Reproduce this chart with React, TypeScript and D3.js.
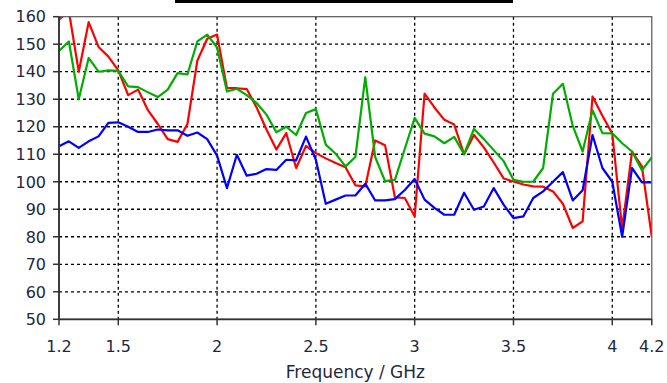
import React from "react";
import * as d3 from "d3";

// Frequency samples (GHz)
const freqs = [
  1.2, 1.25, 1.3, 1.35, 1.4, 1.45, 1.5, 1.55, 1.6, 1.65, 1.7, 1.75, 1.8, 1.85, 1.9, 1.95,
  2.0, 2.05, 2.1, 2.15, 2.2, 2.25, 2.3, 2.35, 2.4, 2.45, 2.5, 2.55, 2.6, 2.65, 2.7, 2.75,
  2.8, 2.85, 2.9, 2.95, 3.0, 3.05, 3.1, 3.15, 3.2, 3.25, 3.3, 3.35, 3.4, 3.45, 3.5, 3.55,
  3.6, 3.65, 3.7, 3.75, 3.8, 3.85, 3.9, 3.95, 4.0, 4.05, 4.1, 4.15, 4.2,
];

const redValues = [
  159, 162, 140, 158, 149, 145.5, 140.5, 131.5, 133.5, 126, 121, 115.5, 114.5, 121, 144, 152,
  153.5, 134, 134, 133.7, 127, 119, 111.7, 117.7, 105, 113, 110.4, 108.5, 106.8, 105.3, 98.7, 98.3,
  115, 113.3, 94.3, 94.1, 87.4, 132, 127, 122.5, 120.8, 110, 117, 112.5, 107, 101.2, 100.1, 99,
  98.3, 98.2, 96.5, 92, 83.2, 85.6, 131, 124, 117.5, 83, 111, 105.6, 80,
];

const greenValues = [
  147.5, 151, 130, 145, 140, 140.5, 140.3, 134.7, 134.4, 132.5, 130.8, 133.5, 139.5, 139, 151, 153.5,
  148.8, 132.8, 133.8, 131.5, 128.6, 124.4, 118, 120, 117, 125, 126.4, 113.5, 110.2, 105.6, 109, 138,
  109, 100.2, 100.7, 112, 123.2, 117.5, 116.5, 114, 116.3, 110, 119.2, 115.5, 111.5, 107.5, 100.7, 100,
  100, 105, 132, 135.6, 120.3, 111, 126, 117.7, 117.6, 114, 111, 104.2, 108.8,
];

const blueValues = [
  112.9, 114.7, 112.3, 114.7, 116.5, 121.4, 121.6, 120, 118.1, 118.1, 119, 118.7, 118.7, 116.7, 117.9, 115.5,
  109.5, 97.7, 109.8, 102.2, 102.9, 104.6, 104.3, 108, 107.8, 116.4, 108, 92, 93.5, 95, 95, 99.3,
  93.2, 93.2, 93.7, 97, 101, 93.5, 90.5, 88, 88, 96, 89.8, 91, 97.7, 91.7, 86.8, 87.4,
  94.1, 96.5, 100, 103.5, 93.2, 96.9, 117, 105, 100, 80, 105, 99.8, 99.8,
];

const xTicks = [1.2, 1.5, 2, 2.5, 3, 3.5, 4, 4.2];
const xTickLabels = ["1.2", "1.5", "2", "2.5", "3", "3.5", "4", "4.2"];
const xGrid = [1.5, 2, 2.5, 3, 3.5, 4];
const yTicks = [50, 60, 70, 80, 90, 100, 110, 120, 130, 140, 150, 160];
const yGrid = [60, 70, 80, 90, 100, 110, 120, 130, 140, 150];

const W = 667;
const H = 383;
const left = 59;
const right = 651.8;
const top = 16.7;
const bottom = 319.3;

const FONT = "'DejaVu Sans', Verdana, sans-serif";
const TEXT = "#1e2740";

export default function App() {
  const x = d3.scaleLinear().domain([1.2, 4.2]).range([left, right]);
  const y = d3.scaleLinear().domain([50, 160]).range([bottom, top]);

  const line = d3
    .line<number>()
    .x((_, i) => x(freqs[i]))
    .y((v) => y(v));

  const series = [
    { values: redValues, color: "#ff0000" },
    { values: blueValues, color: "#0000ff" },
    { values: greenValues, color: "#00ad00" },
  ];

  return (
    <svg
      width={W}
      height={H}
      style={{ position: "absolute", left: 0, top: 0, background: "#fff" }}
    >
      <defs>
        <clipPath id="plot">
          <rect x={left} y={top} width={right - left} height={bottom - top} />
        </clipPath>
      </defs>

      {/* legend frame edge */}
      <rect x={175} y={0} width={338} height={3} fill="#000" />

      {/* grid */}
      {yGrid.map((v) => (
        <line
          key={"gy" + v}
          x1={left}
          x2={right}
          y1={y(v)}
          y2={y(v)}
          stroke="#000"
          strokeWidth={1.3}
          strokeDasharray="3,3"
        />
      ))}
      {xGrid.map((f) => (
        <line
          key={"gx" + f}
          x1={x(f)}
          x2={x(f)}
          y1={top}
          y2={bottom}
          stroke="#000"
          strokeWidth={1.3}
          strokeDasharray="3,3"
        />
      ))}

      {/* data */}
      <g clipPath="url(#plot)">
        {series.map((s, k) => (
          <path
            key={k}
            d={line(s.values) || ""}
            fill="none"
            stroke={s.color}
            strokeWidth={2.2}
            strokeLinejoin="round"
          />
        ))}
      </g>

      {/* frame */}
      <rect
        x={left}
        y={top}
        width={right - left}
        height={bottom - top}
        fill="none"
        stroke="#555"
        strokeWidth={1.2}
      />
      <line x1={left} x2={left} y1={top} y2={bottom} stroke="#333" strokeWidth={1.8} />
      <line x1={left} x2={right} y1={bottom} y2={bottom} stroke="#333" strokeWidth={1.8} />

      {/* y axis */}
      {yTicks.map((v) => (
        <g key={"yt" + v}>
          <line x1={left - 6} x2={left} y1={y(v)} y2={y(v)} stroke="#333" strokeWidth={1.5} />
          <text
            x={46}
            y={y(v)}
            dy="0.36em"
            textAnchor="end"
            fontFamily={FONT}
            fontSize={16}
            fill={TEXT}
          >
            {v}
          </text>
        </g>
      ))}

      {/* x axis */}
      {xTicks.map((f, i) => (
        <g key={"xt" + f}>
          <line x1={x(f)} x2={x(f)} y1={bottom} y2={bottom + 6} stroke="#333" strokeWidth={1.5} />
          <text
            x={x(f)}
            y={352}
            textAnchor="middle"
            fontFamily={FONT}
            fontSize={16}
            fill={TEXT}
          >
            {xTickLabels[i]}
          </text>
        </g>
      ))}

      <text
        x={(left + right) / 2}
        y={378}
        textAnchor="middle"
        fontFamily={FONT}
        fontSize={17}
        fill={TEXT}
      >
        Frequency / GHz
      </text>
    </svg>
  );
}
